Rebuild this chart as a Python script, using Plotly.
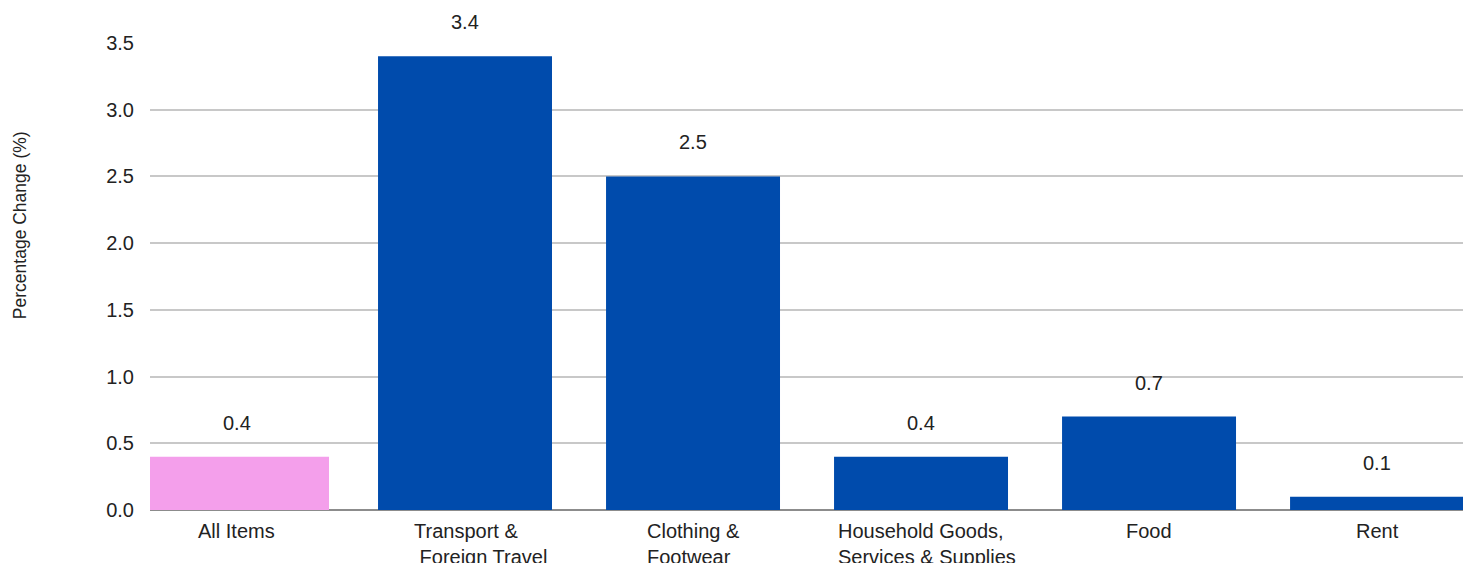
import plotly.graph_objects as go

categories = ["All Items", "Transport &<br> Foreign Travel", "Clothing &<br>Footwear",
              "Household Goods,<br>Services & Supplies", "Food", "Rent"]
values = [0.4, 3.4, 2.5, 0.4, 0.7, 0.1]
bar_colors = ["#F49FEB", "#004BAC", "#004BAC", "#004BAC", "#004BAC", "#004BAC"]
bar_widths = [0.807, 0.763, 0.763, 0.763, 0.763, 0.763]
label_shift = [-1, 15, 0, 6, 0, 0]
y_ticks = [0, 0.5, 1.0, 1.5, 2.0, 2.5, 3.0, 3.5]

FONT = "Liberation Sans, Arial, sans-serif"
TXT = "#222222"

fig = go.Figure()
fig.add_trace(go.Bar(
    x=categories, y=values,
    marker=dict(color=bar_colors, line=dict(width=0)),
    width=bar_widths,
    hoverinfo="skip",
))

# value labels above bars
for c, v in zip(categories, values):
    fig.add_annotation(x=c, y=v, xref="x", yref="y", text=f"{v:.1f}",
                       showarrow=False, yanchor="bottom", yshift=21,
                       font=dict(family=FONT, size=20, color=TXT))

# category labels (left-aligned multi-line blocks)
for c, s in zip(categories, label_shift):
    fig.add_annotation(x=c, y=0, xref="x", yref="paper", text=c,
                       showarrow=False, xanchor="center", yanchor="top",
                       align="left", yshift=-8, xshift=s,
                       font=dict(family=FONT, size=20, color=TXT))

fig.add_annotation(xref="paper", yref="paper", x=-0.099, y=0.61,
                   text="Percentage Change (%)", textangle=-90, showarrow=False,
                   xanchor="center", yanchor="middle",
                   font=dict(family=FONT, size=17.5, color=TXT))

fig.update_layout(
    width=1471, height=563,
    margin=dict(l=142, r=16, t=35, b=61),
    plot_bgcolor="white", paper_bgcolor="white",
    showlegend=False,
    font=dict(family=FONT, size=20, color=TXT),
    xaxis=dict(type="category", range=[-0.3816, 5.377], showgrid=False,
               showline=False, zeroline=False, ticks="", showticklabels=False),
    yaxis=dict(range=[0, 3.5], tickvals=y_ticks, tickformat=".1f",
               showgrid=True, gridcolor="#C8C8C8", gridwidth=1.5,
               zeroline=True, zerolinecolor="#8C8C8C", zerolinewidth=2,
               showline=False, ticks="", ticklabelstandoff=15,
               tickfont=dict(family=FONT, size=20, color=TXT)),
)

fig.write_html("out.html")
